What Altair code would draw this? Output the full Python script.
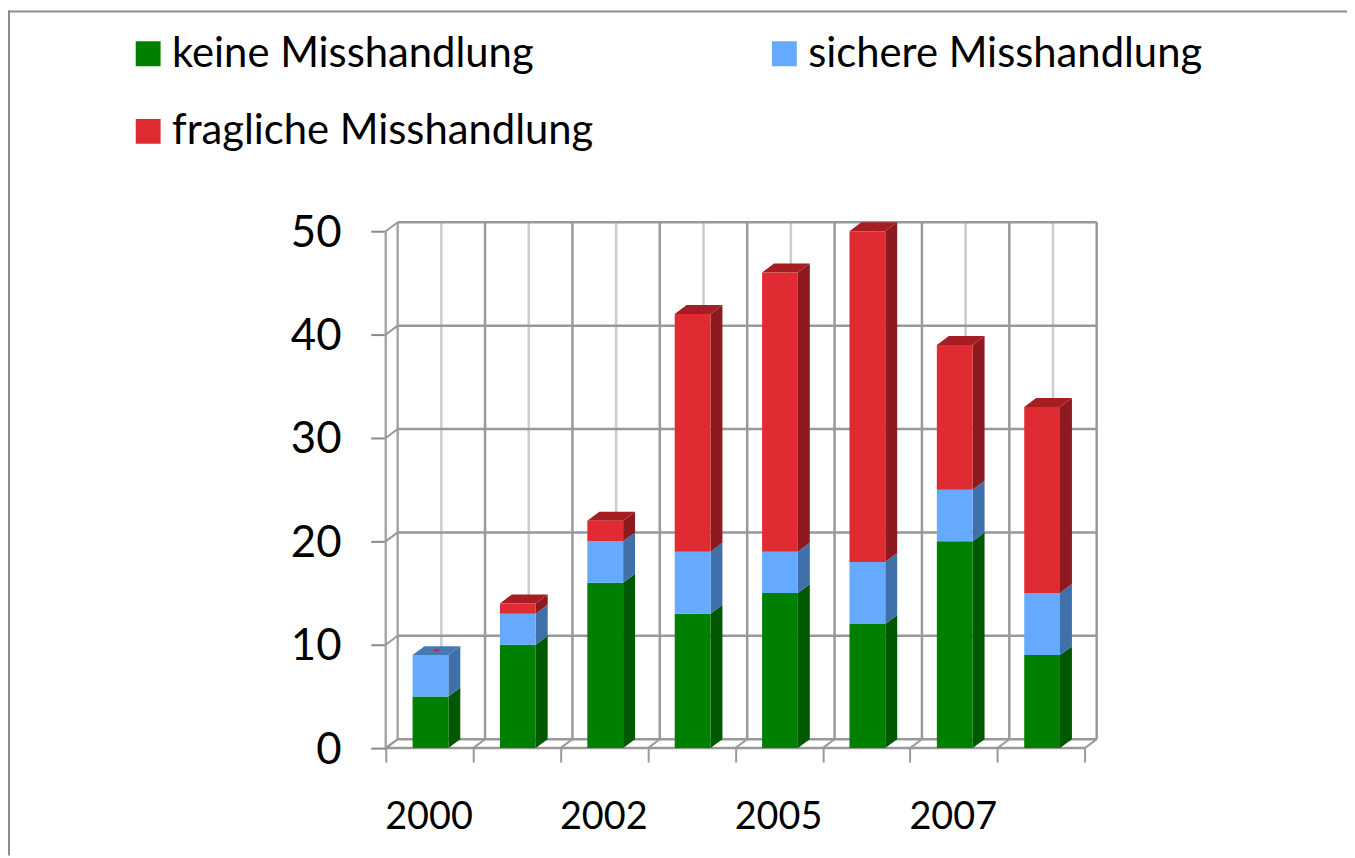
import altair as alt
import pandas as pd

years = ["2000", "2001", "2002", "2003", "2005", "2006", "2007", "2008"]
shown_years = ["2000", "", "2002", "", "2005", "", "2007", ""]
series = ["keine Misshandlung", "sichere Misshandlung", "fragliche Misshandlung"]
keine = [5, 10, 16, 13, 15, 12, 20, 9]
sichere = [4, 3, 4, 6, 4, 6, 5, 6]
fraglich = [0, 1, 2, 23, 27, 32, 14, 18]
y_ticks = [0, 10, 20, 30, 40, 50]

front_colors = ["#008000", "#66AAFF", "#E02B33"]
side_colors = ["#005800", "#3F70A9", "#8E1A20"]
top_colors = ["#005F00", "#4779B5", "#A61E24"]

W, H = 715, 530
UNIT_X, UNIT_Y = 87.9, 10.4
DX, DY = 12 / UNIT_X, 9 / UNIT_Y
BAR_W = 36 / UNIT_X
BAR_X0 = 27 / UNIT_X
PAD_L, PAD_T = 380, 212
TOTAL_W, TOTAL_H = 1347, 850
GRID = "#999999"
FONT = "Lato"

xs = alt.Scale(domain=[0, W / UNIT_X], nice=False, zero=False)
ys = alt.Scale(domain=[0, H / UNIT_Y], nice=False, zero=False)

n = len(years)
label_expr = "{" + ",".join(f"'{k}':'{t}'" for k, t in enumerate(shown_years)) + "}[datum.value] || ''"
x_axis = alt.Axis(
    values=list(range(n + 1)), domain=False, grid=False, tickSize=14, tickWidth=2, title=None,
    tickColor=GRID, labelExpr=label_expr, labelOffset=43, labelPadding=37,
    labelFont=FONT, labelFontSize=38, labelColor="#000000", labelOverlap=False,
    labelFlush=False, labelAlign="center", labelBound=False)
y_axis = alt.Axis(
    values=y_ticks, domain=False, grid=False, tickSize=15, tickWidth=2, title=None,
    tickColor="#888888", labelPadding=30, labelOffset=2, labelFont=FONT, labelFontSize=44,
    labelColor="#000000", labelOverlap=False, labelFlush=False, labelBound=False)

X = lambda f="x": alt.X(f"{f}:Q", scale=xs, axis=x_axis)
Y = lambda f="y": alt.Y(f"{f}:Q", scale=ys, axis=y_axis, stack=None)

rows_front, rows_side, rows_top = [], [], []
for i, yr in enumerate(years):
    vals = [keine[i], sichere[i], fraglich[i]]
    base = 0
    last = max(j for j, v in enumerate(vals) if v > 0)
    x0 = i + BAR_X0
    x1 = x0 + BAR_W
    for j, v in enumerate(vals):
        if v == 0:
            continue
        top = base + v
        rows_front.append(dict(x=x0, x2=x1, y=base, y2=top, s=series[j]))
        key = f"{i}-{j}"
        rows_side += [
            dict(k=key, x=x1, y=base, y2=top, c=side_colors[j]),
            dict(k=key, x=x1 + DX, y=base + DY, y2=top + DY, c=side_colors[j]),
        ]
        if j == last:
            rows_top += [
                dict(k=key, x=x0, y=top, y2=top, c=top_colors[j]),
                dict(k=key, x=x0 + DX, y=top, y2=top + DY, c=top_colors[j]),
                dict(k=key, x=x1, y=top, y2=top + DY, c=top_colors[j]),
                dict(k=key, x=x1 + DX, y=top + DY, y2=top + DY, c=top_colors[j]),
            ]
        base = top

h_lines = [dict(x=DX, x2=n + DX, y=v + DY, y2=v + DY) for v in y_ticks]
h_lines.append(dict(x=0, x2=n, y=0, y2=0))
left_wall = [dict(x=0, x2=0, y=0, y2=50), dict(x=DX, x2=DX, y=DY, y2=50 + DY)]
v_dark = [dict(x=k + DX, x2=k + DX, y=DY, y2=50 + DY) for k in range(1, n + 1)]
v_light = [dict(x=k + DX + 0.5, x2=k + DX + 0.5, y=DY, y2=50 + DY) for k in range(n)]
diag = [dict(k=f"y{v}", x=a, y=v + b) for v in y_ticks for a, b in ((0, 0), (DX, DY))]
diag += [dict(k=f"x{t}", x=t + a, y=b) for t in range(n + 1) for a, b in ((0, 0), (DX, DY))]


def rules(rows, color, width):
    return alt.Chart(pd.DataFrame(rows)).mark_rule(color=color, strokeWidth=width).encode(
        x=X(), x2="x2:Q", y=Y(), y2="y2:Q"
    )


side = alt.Chart(pd.DataFrame(rows_side)).mark_area(opacity=1).encode(
    x=X(), y=Y(), y2="y2:Q", detail="k:N", color=alt.Color("c:N", scale=None)
)
top = alt.Chart(pd.DataFrame(rows_top)).mark_area(opacity=1).encode(
    x=X(), y=Y(), y2="y2:Q", detail="k:N", color=alt.Color("c:N", scale=None)
)
front = alt.Chart(pd.DataFrame(rows_front)).mark_rect().encode(
    x=X(), x2="x2:Q", y=Y(), y2="y2:Q",
    color=alt.Color("s:N", scale=alt.Scale(domain=series, range=front_colors), title=None,
                    legend=alt.Legend(
                        orient="none", direction="horizontal", legendX=-260, legendY=-189.5, columns=2, padding=0,
                        symbolType="square", symbolSize=625, symbolStrokeWidth=0,
                        symbolOpacity=1, labelFont=FONT, labelFontSize=42, labelColor="#000000",
                        labelLimit=600, labelOffset=3, columnPadding=171, rowPadding=36,
                        clipHeight=42)),
)

sliver_x = BAR_X0 + BAR_W / 2 + DX / 2
sliver = alt.Chart(pd.DataFrame([dict(x=sliver_x - 0.03, x2=sliver_x + 0.03, y=9 + DY * 0.55, y2=9 + DY * 0.55)])).mark_rule(
    color="#D02030", strokeWidth=2).encode(x=X(), x2="x2:Q", y=Y(), y2="y2:Q")

diagonals = alt.Chart(pd.DataFrame(diag)).mark_line(color=GRID, strokeWidth=2).encode(
    x=X(), y=Y(), detail="k:N"
)

frame_top = alt.Chart(pd.DataFrame({"a": [0]})).mark_rule(color="#8C8C8C", strokeWidth=2).encode(
    x=alt.value(-PAD_L), x2=alt.value(TOTAL_W - PAD_L), y=alt.value(1 - PAD_T)
)
frame_left = alt.Chart(pd.DataFrame({"a": [0]})).mark_rule(color="#8C8C8C", strokeWidth=2).encode(
    x=alt.value(1 - PAD_L), y=alt.value(-PAD_T), y2=alt.value(TOTAL_H - PAD_T)
)

chart = alt.layer(
    frame_top, frame_left,
    rules(v_light, "#CCCCCC", 2.5),
    rules(v_dark, GRID, 2.5),
    rules(left_wall, "#A6A6A6", 2.5),
    rules(h_lines, GRID, 2.5),
    diagonals,
    side, top, front, sliver,
).resolve_scale(color="independent").properties(
    width=W, height=H,
    background="white",
    padding={"left": PAD_L, "top": PAD_T, "right": TOTAL_W - PAD_L - W, "bottom": TOTAL_H - PAD_T - H},
    autosize=alt.AutoSizeParams(type="none"),
).configure_view(stroke=None)

chart.save("out.html", embed_options={"renderer": "svg", "actions": False})
